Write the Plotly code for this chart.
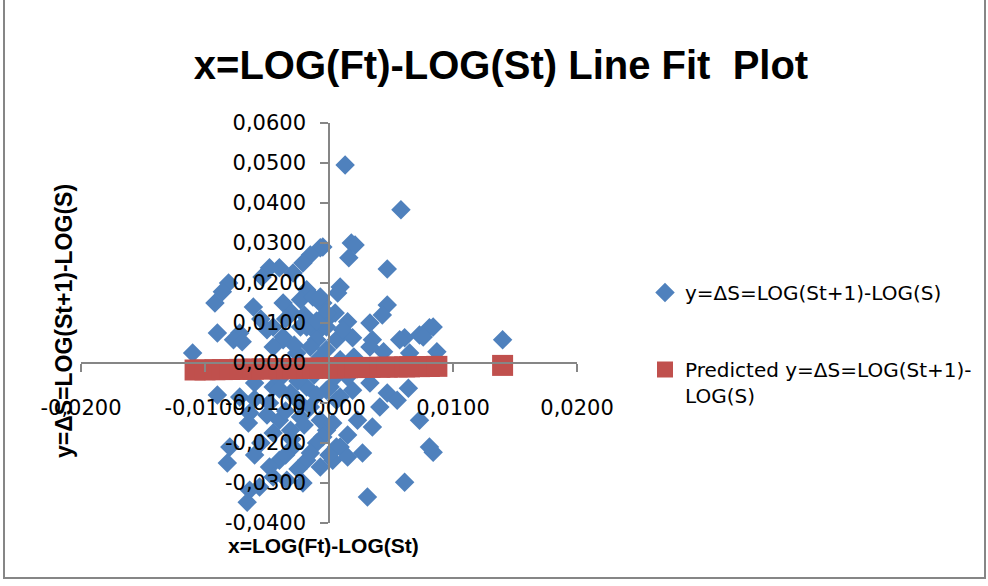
import plotly.graph_objects as go

# ---------------- data ----------------
obs_x = [0.0013, 0.0058, 0.0018, 0.0021, -0.0005, 0.0016, 0.0047, 0.0009, 0.0007, 0.0047,
         0.0043, -0.0005, -0.0002, 0.0005, 0.0015, 0.0033, 0.0081, 0.0073, 0.0061, 0.0140,
         0.0019, 0.0035, -0.0007, -0.0015, -0.0021, -0.0029, -0.0040, -0.0048, -0.0054, -0.0081,
         -0.0092, -0.0061, -0.0086, -0.0018, -0.0023, -0.0013, -0.0037, -0.0030, -0.0007, -0.0002,
         -0.0090, -0.0072, -0.0077, -0.0045, -0.0037, -0.0023, -0.0010, -0.0070, -0.0110, -0.0090,
         -0.0072, -0.0064, -0.0048, -0.0040, -0.0031, -0.0023, -0.0015, -0.0007, -0.0002, -0.0029,
         -0.0018, -0.0007, 0.0003, -0.0040, -0.0048, -0.0045, -0.0034, -0.0021, -0.0056, -0.0064,
         -0.0066, -0.0080, -0.0082, 0.0006, -0.0005, -0.0050, -0.0037, -0.0018, -0.0010, -0.0002,
         0.0006, -0.0026, -0.0007, -0.0045, -0.0031, -0.0018, -0.0002, 0.0006, 0.0011, 0.0033,
         0.0044, 0.0057, 0.0065, 0.0076, 0.0084, 0.0087, -0.0002, 0.0009, 0.0001, 0.0009,
         0.0019, 0.0033, 0.0047, 0.0055, 0.0064, 0.0041, 0.0035, 0.0023, 0.0003, 0.0073,
         0.0084, 0.0081, 0.0027, 0.0009, 0.0015, 0.0061, 0.0031, -0.0007, -0.0025, -0.0012,
         0.0015, -0.0040, -0.0060,
         -0.0045, -0.0028, -0.0015, -0.0035, -0.0020, -0.0055, -0.0010, -0.0040, -0.0025, -0.0010,
         -0.0035, -0.0050, -0.0020, -0.0045, -0.0030, -0.0010, -0.0055, -0.0035, -0.0015, -0.0060,
         -0.0025, 0.0000, -0.0060, -0.0065, 0.0015, 0.0020, 0.0005]
obs_y = [0.0495, 0.0383, 0.0300, 0.0295, 0.0290, 0.0263, 0.0235, 0.0190, 0.0175, 0.0145,
         0.0120, 0.0150, 0.0108, 0.0125, 0.0103, 0.0100, 0.0088, 0.0070, 0.0063, 0.0058,
         0.0063, 0.0058, 0.0288, 0.0270, 0.0250, 0.0225, 0.0238, 0.0238, 0.0215, 0.0200,
         0.0150, 0.0140, 0.0178, 0.0183, 0.0158, 0.0165, 0.0150, 0.0125, 0.0150, 0.0125,
         0.0075, 0.0075, 0.0058, 0.0090, 0.0065, 0.0090, 0.0075, 0.0053, 0.0025, -0.0080,
         -0.0085, -0.0125, -0.0100, -0.0143, -0.0168, -0.0135, -0.0110, -0.0143, -0.0168, -0.0210,
         -0.0243, -0.0260, -0.0243, -0.0243, -0.0260, -0.0285, -0.0293, -0.0300, -0.0310, -0.0318,
         -0.0348, -0.0210, -0.0250, -0.0210, -0.0185, 0.0083, 0.0058, 0.0090, 0.0058, 0.0090,
         0.0058, 0.0025, 0.0015, -0.0060, -0.0075, -0.0060, -0.0068, -0.0093, 0.0083, 0.0040,
         0.0028, 0.0058, 0.0025, 0.0065, 0.0090, 0.0028, 0.0033, 0.0008, -0.0060, -0.0085,
         -0.0068, -0.0050, -0.0075, -0.0093, -0.0063, -0.0110, -0.0160, -0.0143, -0.0150, -0.0143,
         -0.0223, -0.0210, -0.0225, -0.0210, -0.0235, -0.0298, -0.0335, 0.0165, -0.0045, -0.0030,
         -0.0035, -0.0040, -0.0050,
         0.0040, 0.0045, 0.0040, 0.0110, 0.0120, 0.0110, 0.0105, -0.0065, -0.0095, -0.0080,
         -0.0120, -0.0130, -0.0155, -0.0175, -0.0190, -0.0200, -0.0200, -0.0230, -0.0225, -0.0230,
         -0.0265, -0.0230, -0.0090, -0.0150, -0.0180, 0.0015, -0.0035]

pred_x = [-0.0108, -0.0100, -0.0092, -0.0086, -0.0080, -0.0072, -0.0066, -0.0061, -0.0054,
          -0.0048, -0.0040, -0.0034, -0.0029, -0.0023, -0.0018, -0.0013, -0.0007, -0.0002,
          0.0003, 0.0009, 0.0015, 0.0021, 0.0027, 0.0033, 0.0041, 0.0047, 0.0055, 0.0061,
          0.0065, 0.0073, 0.0081, 0.0087, 0.0140]
pred_y = [-0.00175, -0.00172, -0.00168, -0.00165, -0.00162, -0.00159, -0.00156, -0.00153,
          -0.00150, -0.00147, -0.00144, -0.00141, -0.00139, -0.00136, -0.00133, -0.00131,
          -0.00128, -0.00126, -0.00124, -0.00121, -0.00118, -0.00115, -0.00112, -0.00110,
          -0.00106, -0.00103, -0.00099, -0.00097, -0.00095, -0.00091, -0.00087, -0.00084,
          -0.00060]

x_tickvals = [-0.02, -0.01, 0.0, 0.01, 0.02]
x_ticktext = ["-0,0200", "-0,0100", "0,0000", "0,0100", "0,0200"]
y_tickvals = [-0.04, -0.03, -0.02, -0.01, 0.0, 0.01, 0.02, 0.03, 0.04, 0.05, 0.06]
y_ticktext = ["-0,0400", "-0,0300", "-0,0200", "-0,0100", "0,0000", "0,0100",
              "0,0200", "0,0300", "0,0400", "0,0500", "0,0600"]

title_text = "x=LOG(Ft)-LOG(St) Line Fit \u00a0Plot"
x_title = "x=LOG(Ft)-LOG(St)"
y_title = "y=ΔS=LOG(St+1)-LOG(S)"
name_obs = "y=ΔS=LOG(St+1)-LOG(S)"
name_pred = "Predicted y=ΔS=LOG(St+1)-<br>LOG(S)"

# ---------------- figure ----------------
W, H = 988, 586
L, R, T, B = 81, 411, 123, 63
AX_COLOR = "#868686"
TICK_FONT = dict(family="DejaVu Sans", size=21, color="black")

fig = go.Figure()
fig.add_trace(go.Scatter(
    x=obs_x, y=obs_y, mode="markers", name=name_obs, legendgroup="a",
    marker=dict(symbol="diamond", size=15, color="#4F81BD", line=dict(width=0)),
    cliponaxis=False,
))
fig.add_trace(go.Scatter(
    x=pred_x, y=pred_y, mode="markers", name=name_pred, legendgroup="b",
    marker=dict(symbol="square", size=21, color="#C0504D", line=dict(width=0)),
    cliponaxis=False,
))

fig.update_layout(
    width=W, height=H,
    margin=dict(l=L, r=R, t=T, b=B),
    paper_bgcolor="white", plot_bgcolor="white",
    showlegend=True,
    title=dict(text=title_text, x=501 / W, y=1 - 65 / H, xref="container", yref="container",
               xanchor="center", yanchor="middle",
               font=dict(family="Liberation Sans", size=40, color="black", weight="bold")),
    legend=dict(xref="container", yref="container", x=645 / W, y=1 - 273 / H,
                xanchor="left", yanchor="top", traceorder="grouped", tracegroupgap=48,
                valign="top", itemwidth=30,
                font=dict(family="DejaVu Sans", size=20, color="black"),
                bgcolor="rgba(0,0,0,0)"),
    xaxis=dict(range=[-0.02, 0.02], anchor="free", position=0.4, showgrid=False,
               zeroline=False, showline=True, linecolor=AX_COLOR, linewidth=1.5,
               ticks="outside", ticklen=8, tickcolor=AX_COLOR, tickwidth=1.5,
               tickvals=x_tickvals, ticktext=x_ticktext, tickfont=TICK_FONT,
               ticklabelstandoff=18),
    yaxis=dict(range=[-0.04, 0.06], anchor="free", position=0.5, showgrid=False,
               zeroline=False, showline=True, linecolor=AX_COLOR, linewidth=1.5,
               ticks="outside", ticklen=8, tickcolor=AX_COLOR, tickwidth=1.5,
               tickvals=y_tickvals, ticktext=y_ticktext, tickfont=TICK_FONT,
               ticklabelstandoff=10),
)

pw, ph = W - L - R, H - T - B
def px_x(p):
    return (p - L) / pw
def px_y(p):
    return (H - B - p) / ph

fig.add_annotation(text=x_title, xref="paper", yref="paper", x=px_x(323), y=px_y(545),
                   showarrow=False, xanchor="center", yanchor="middle",
                   font=dict(family="Liberation Sans", size=21, color="black", weight="bold"))
fig.add_annotation(text=y_title, xref="paper", yref="paper", x=px_x(64), y=px_y(321),
                   showarrow=False, xanchor="center", yanchor="middle", textangle=-90,
                   font=dict(family="Liberation Sans", size=23, color="black", weight="bold"))

fig.add_shape(type="rect", xref="paper", yref="paper",
              x0=px_x(4), x1=px_x(985), y0=px_y(578), y1=px_y(-3),
              line=dict(color=AX_COLOR, width=2), fillcolor="rgba(0,0,0,0)", layer="below")

fig.write_html("out.html", config={"displayModeBar": False},
               post_script="document.body.style.margin='0';document.body.style.overflow='hidden';")
